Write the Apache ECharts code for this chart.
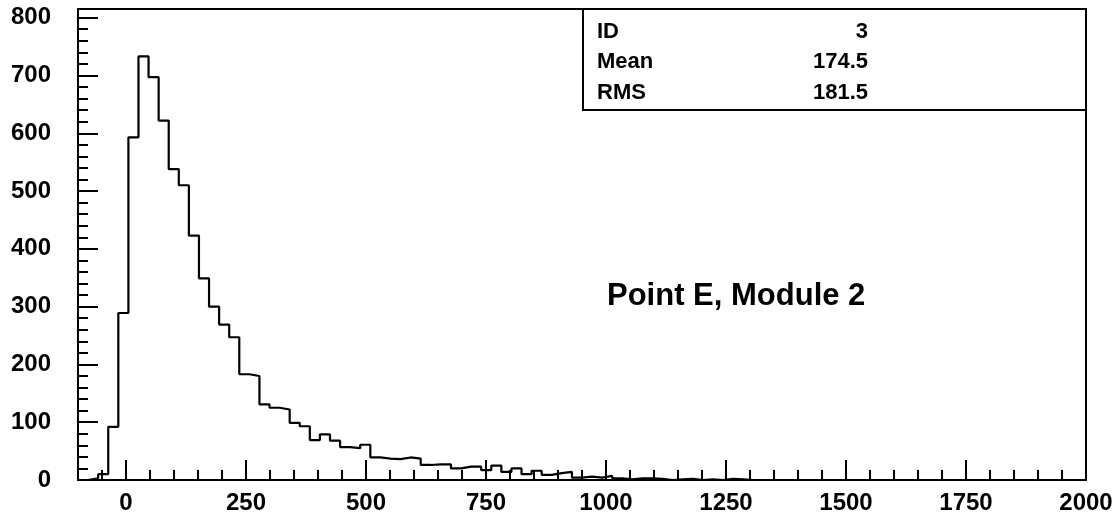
<!DOCTYPE html>
<html>
<head>
<meta charset="utf-8">
<script src="https://cdn.jsdelivr.net/npm/echarts@6/dist/echarts.min.js"></script>
<style>
  html, body { margin: 0; padding: 0; background: #ffffff; }
  #chart { width: 1120px; height: 520px; }
</style>
</head>
<body>
<div id="chart"></div>
<script>
// Histogram binning: 100 bins of width 21 starting at -100
const binLow = -100;
const binWidth = 21;

// Entries per bin
const counts = [
  0, 3, 10, 92, 289, 593, 733, 697, 622, 538,
  510, 423, 349, 300, 269, 247, 183, 180, 131, 125,
  122, 99, 93, 69, 79, 68, 57, 55, 61, 39,
  37, 36, 39, 37, 26, 27, 27, 20, 23, 23,
  17, 25, 14, 20, 10, 16, 9, 12, 14, 4,
  6, 4, 7, 3, 1, 3, 3, 2, 0, 1,
  2, 0, 1, 0, 2, 1, 0, 0, 0, 0,
  0, 0, 0, 0, 0, 0, 0, 0, 0, 0,
  0, 0, 0, 0, 0, 0, 0, 0, 0, 0,
  0, 0, 0, 0, 0, 0, 0, 0, 0, 0
];

// Axis ranges and tick positions
const xMin = -100, xMax = 2000;
const yMin = 0, yMax = 815;
const xMajorTicks = [0, 250, 500, 750, 1000, 1250, 1500, 1750, 2000];
const xMinorStep = 50;
const yMajorTicks = [0, 100, 200, 300, 400, 500, 600, 700, 800];
const yMinorStep = 20;

// Statistics box and annotation text
const statsLabels = ['ID', 'Mean', 'RMS'];
const statsValues = ['3', '174.5', '181.5'];
const annotation = 'Point E, Module 2';

const FONT = '"Liberation Sans", Arial, Helvetica, sans-serif';

function stepTicks(from, to, step) {
  const out = [];
  for (let v = from; v <= to; v += step) out.push(v);
  return out;
}
const xMinorTicks = stepTicks(-50, 2000, xMinorStep);
const yMinorTicks = stepTicks(0, 800, yMinorStep);

// Outline points at bin low edges, closed at the upper edge of the last bin
const outline = counts.map((c, k) => [binLow + k * binWidth, c]);
outline.push([binLow + counts.length * binWidth, counts[counts.length - 1]]);

const chart = echarts.init(document.getElementById('chart'), null, { renderer: 'canvas' });

const grid = { left: 78, right: 34, top: 9, bottom: 40 };
const plainLabel = (v) => String(v);

const graphics = [
  {
    type: 'rect', z: 10,
    shape: { x: 583, y: 9, width: 503, height: 101 },
    style: { fill: '#ffffff', stroke: '#000', lineWidth: 2 }
  },
  {
    type: 'text', z: 11, x: 607, y: 296,
    style: { text: annotation, font: 'bold 31px ' + FONT, fill: '#000', textAlign: 'left', textVerticalAlign: 'middle' }
  }
];
statsLabels.forEach((lab, i) => {
  const cy = 31.5 + i * 30.5;
  graphics.push({
    type: 'text', z: 12, x: 597, y: cy,
    style: { text: lab, font: 'bold 22px ' + FONT, fill: '#000', textAlign: 'left', textVerticalAlign: 'middle' }
  });
  graphics.push({
    type: 'text', z: 12, x: 868, y: cy,
    style: { text: statsValues[i], font: 'bold 22px ' + FONT, fill: '#000', textAlign: 'right', textVerticalAlign: 'middle' }
  });
});

const hiddenLine = { show: false, onZero: false };

chart.setOption({
  animation: false,
  backgroundColor: '#ffffff',
  grid: Object.assign({ show: true, borderColor: '#000', borderWidth: 2, backgroundColor: 'transparent' }, grid),
  xAxis: [
    {
      type: 'value', min: xMin, max: xMax, position: 'bottom',
      axisLine: hiddenLine,
      splitLine: { show: false },
      axisTick: { show: true, inside: true, length: 20, customValues: xMajorTicks, lineStyle: { color: '#000', width: 2 } },
      axisLabel: { show: true, customValues: xMajorTicks, formatter: plainLabel, margin: 11, color: '#000', fontFamily: FONT, fontWeight: 'bold', fontSize: 24 }
    },
    {
      type: 'value', min: xMin, max: xMax, position: 'bottom',
      axisLine: hiddenLine,
      splitLine: { show: false },
      axisTick: { show: true, inside: true, length: 10, customValues: xMinorTicks, lineStyle: { color: '#000', width: 2 } },
      axisLabel: { show: false }
    }
  ],
  yAxis: [
    {
      type: 'value', min: yMin, max: yMax, position: 'left',
      axisLine: hiddenLine,
      splitLine: { show: false },
      axisTick: { show: true, inside: true, length: 20, customValues: yMajorTicks, lineStyle: { color: '#000', width: 2 } },
      axisLabel: { show: true, customValues: yMajorTicks, formatter: plainLabel, margin: 27, padding: [3, 0, 0, 0], color: '#000', fontFamily: FONT, fontWeight: 'bold', fontSize: 24 }
    },
    {
      type: 'value', min: yMin, max: yMax, position: 'left',
      axisLine: hiddenLine,
      splitLine: { show: false },
      axisTick: { show: true, inside: true, length: 10, customValues: yMinorTicks, lineStyle: { color: '#000', width: 2 } },
      axisLabel: { show: false }
    }
  ],
  series: [
    {
      type: 'line', step: 'end', xAxisIndex: 0, yAxisIndex: 0,
      data: outline, symbol: 'none', clip: true,
      lineStyle: { color: '#000', width: 2.2 },
      z: 5
    }
  ],
  graphic: graphics
});
</script>
</body>
</html>
